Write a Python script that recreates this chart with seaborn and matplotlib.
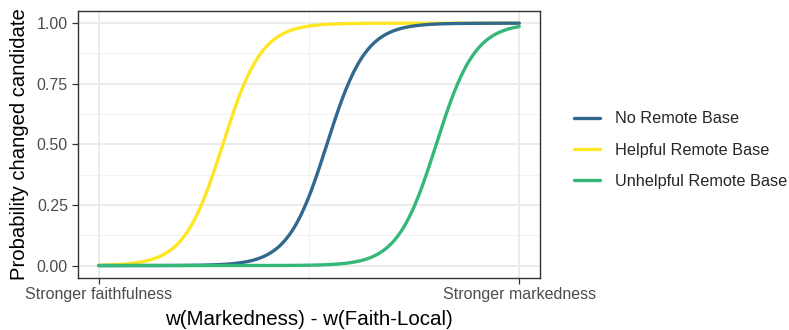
import numpy as np
import pandas as pd
import matplotlib
matplotlib.use("Agg")
import matplotlib.pyplot as plt
import seaborn as sns
from matplotlib.lines import Line2D

sns.set_theme(style="white")
plt.rcParams['font.family'] = ['Liberation Sans', 'DejaVu Sans']

# ---- data (logistic curves) ----
conditions = ["No Remote Base", "Helpful Remote Base", "Unhelpful Remote Base"]
midpoints = [0.85, -4.1, 6.05]        # x where probability = 0.5
slopes = [1.08, 1.08, 1.08]           # logistic steepness
colors = ["#31688E", "#FDE725", "#35B779"]
draw_order = ["Helpful Remote Base", "No Remote Base", "Unhelpful Remote Base"]
x_range = [-10, 10]
x_tick_labels = ["Stronger faithfulness", "Stronger markedness"]
y_ticks = [0.0, 0.25, 0.5, 0.75, 1.0]

xs = np.linspace(x_range[0], x_range[1], 500)
rows = []
for c, m, k in zip(conditions, midpoints, slopes):
    p = 1.0 / (1.0 + np.exp(-k * (xs - m)))
    rows.append(pd.DataFrame({"x": xs, "p": p, "cond": c}))
df = pd.concat(rows, ignore_index=True)
palette = dict(zip(conditions, colors))

fig = plt.figure(figsize=(7.89, 3.30), dpi=100)
ax = fig.add_axes([0.0985, 0.1585, 0.5863, 0.808])

# grid
for yv in [0.125, 0.375, 0.625, 0.875]:
    ax.axhline(yv, color="#F2F2F2", lw=0.8, zorder=0)
for yv in y_ticks:
    ax.axhline(yv, color="#EBEBEB", lw=1.4, zorder=0)
ax.axvline(np.mean(x_range), color="#F2F2F2", lw=0.8, zorder=0)
for xv in x_range:
    ax.axvline(xv, color="#EBEBEB", lw=1.4, zorder=0)

for c in draw_order:
    sns.lineplot(data=df[df["cond"] == c], x="x", y="p", color=palette[c],
                 lw=2.4, ax=ax, legend=False, zorder=3)

ax.set_xlim(-11, 11)
ax.set_ylim(-0.05, 1.05)
ax.set_xticks(x_range)
ax.set_xticklabels(x_tick_labels)
ax.set_yticks(y_ticks)
ax.set_yticklabels([f"{v:.2f}" for v in y_ticks])
ax.tick_params(axis="both", length=4, width=0.9, color="#333333",
               labelcolor="#4D4D4D", labelsize=11.5, pad=3, direction="out")
ax.tick_params(axis="both", which="both", bottom=True, left=True)
for s in ax.spines.values():
    s.set_color("#333333")
    s.set_linewidth(1.0)
    s.set_visible(True)

ax.set_xlabel("w(Markedness) - w(Faith-Local)", fontsize=14.8, color="black")
ax.set_ylabel("Probability changed candidate", fontsize=14.6, color="black")
ax.xaxis.set_label_coords(0.5, -0.12)
ax.yaxis.set_label_coords(-0.105, 0.5)

handles = [Line2D([0], [0], color=palette[c], lw=2.4) for c in conditions]
fig.legend(handles, conditions, loc="center left",
           bbox_to_anchor=(574 / 789, 1 - 150 / 330), frameon=False,
           fontsize=11.7, handlelength=1.6, handletextpad=0.9,
           labelspacing=1.0, borderpad=0, borderaxespad=0)

fig.savefig("out.png", dpi=100)
